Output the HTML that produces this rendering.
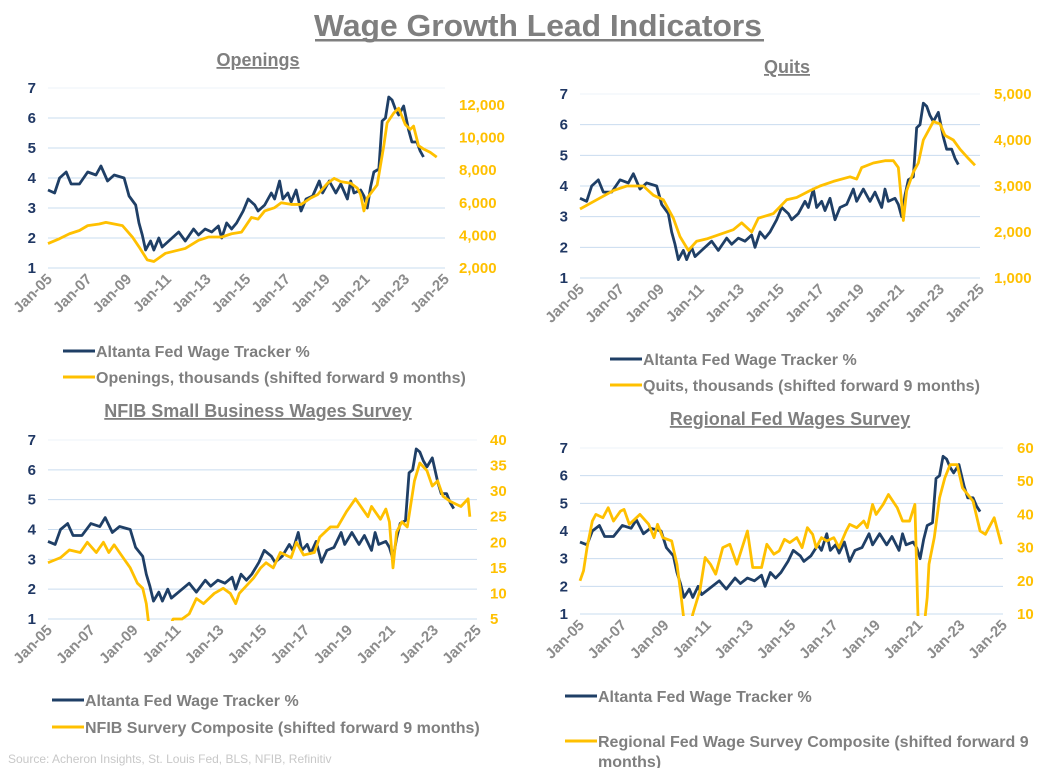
<!DOCTYPE html>
<html><head><meta charset="utf-8">
<style>
body{margin:0;background:#fff;}
svg{display:block;font-family:"Liberation Sans",Arial,sans-serif;}
.sub{font-weight:bold;fill:#7f7f7f;font-size:18px;text-decoration:underline;}
.lt{fill:#203864;font-size:15px;font-weight:bold;}
.rt{fill:#ffc000;font-size:15px;font-weight:bold;}
.xt{fill:#8c8c8c;font-size:15px;font-weight:bold;}
.lg{fill:#7f7f7f;font-size:16px;font-weight:bold;}
</style></head>
<body>
<svg id="root" width="1049" height="768" viewBox="0 0 1049 768">
<text x="538" y="36" text-anchor="middle" font-size="31" font-weight="bold" fill="#7f7f7f" textLength="448" lengthAdjust="spacingAndGlyphs">Wage Growth Lead Indicators</text>
<rect x="315" y="39" width="449" height="2.5" fill="#7f7f7f"/>
<text x="8" y="763" font-size="12" fill="#c8c8c8">Source: Acheron Insights, St. Louis Fed, BLS, NFIB, Refinitiv</text>
</svg>
<script>
// shared wage tracker series (month index from Jan-05)
const wageMonths=[0,4,7,11,14,19,24,29,32,36,40,46,49,53,55,57,59,62,64,67,69,73,79,83,88,91,95,99,103,105,108,111,114,118,121,125,127,131,135,137,140,142,145,147,150,153,156,160,164,166,170,174,177,181,183,185,189,191,193,195,197,200,202,204,206,208,210,212,215,218,220,223,225,227];
const wageValues=[3.6,3.5,4.0,4.2,3.8,3.8,4.2,4.1,4.4,3.9,4.1,4.0,3.4,3.1,2.5,2.1,1.6,1.9,1.6,2.0,1.7,1.9,2.2,1.9,2.3,2.1,2.3,2.2,2.4,2.0,2.5,2.3,2.5,2.9,3.3,3.1,2.9,3.1,3.5,3.3,3.9,3.3,3.5,3.2,3.6,2.9,3.3,3.4,3.9,3.5,3.9,3.5,3.8,3.3,3.9,3.5,3.6,3.4,3.0,3.7,4.2,4.3,5.9,6.0,6.7,6.6,6.3,6.1,6.4,5.6,5.2,5.2,4.9,4.7];
const xTickLabels=["Jan-05","Jan-07","Jan-09","Jan-11","Jan-13","Jan-15","Jan-17","Jan-19","Jan-21","Jan-23","Jan-25"];
const leftTicks=[1,2,3,4,5,6,7];
// openings
const openMonths=[0,7,13,19,24,31,35,45,51,55,60,64,71,75,83,91,97,105,111,117,123,127,131,137,141,147,153,159,163,169,173,177,183,187,189,191,193,199,203,205,209,212,216,219,221,224,227,231,235];
const openValues=[3500,3800,4100,4300,4600,4700,4800,4600,3900,3300,2500,2400,2900,3000,3200,3700,3900,3900,4100,4200,5100,5000,5500,5700,6000,5900,5900,6300,6500,7200,7500,7300,7200,6900,6500,5500,6300,7100,9500,10900,11500,11800,10800,10500,10700,9500,9300,9100,8800];
const openTicks=[2000,4000,6000,8000,10000,12000];
// quits
const quitMonths=[0,10,20,28,38,44,50,56,60,65,70,76,84,92,97,103,107,116,124,130,138,144,152,162,166,169,176,183,188,191,194,196,200,203,206,212,216,219,224,228,233,237];
const quitValues=[2500,2700,2900,3000,3000,2800,2700,2300,1900,1600,1800,1850,1950,2050,2200,2000,2300,2400,2700,2750,2900,3000,3100,3200,3150,3400,3500,3550,3550,3400,2250,2900,3300,3500,4000,4400,4350,4100,4000,3800,3600,3450];
const quitTicks=[1000,2000,3000,4000,5000];
// nfib
const nfibMonths=[0,7,12,18,22,27,31,34,37,42,46,50,53,55,56,59,66,70,75,79,83,87,93,98,102,105,107,115,119,122,126,130,136,139,143,149,152,158,162,167,172,175,179,181,186,189,191,193,195,198,201,205,208,212,215,218,221,225,231,235,236];
const nfibValues=[16,17,18.5,18,20,18,20,18,19.5,17,15,12,11,8,5,-2,2,5,5,6,9,8,10,11,10,8,10,13,15,16,15,18,17,20,17.5,18,21,23,23,26,28.5,27,25,27,24.5,26.5,24,15,22,24,23,32,35.5,34,31,32,29,28,27,28.5,25];
const nfibTicks=[5,10,15,20,25,30,35,40];
// regional fed
const regMonths=[0,2,4,7,9,13,16,19,23,25,28,34,39,42,44,47,52,55,57,59,62,64,68,71,74,77,81,85,89,95,98,103,106,110,113,116,119,123,126,129,132,134,137,140,144,147,151,153,157,161,163,166,168,172,175,180,183,187,190,192,195,197,198,201,204,207,210,214,217,223,227,230,235,239];
const regValues=[20,23,30,38,40,39,42,38,41,41.5,37,40,37,33,37,33,32,25,17,8,5,10,17,27,25,22,30,31,25,35,24,24,31,28,29,32.5,31.5,33,30,36,34,30,33,32,33,30,35,37,36,38,36,43,40,43,46,42,38,38,43,5,5,15,25,33,45,51,55,55,48,44,35,34,39,31];
const regTicks=[10,20,30,40,50,60];

const NS="http://www.w3.org/2000/svg";
const root=document.getElementById('root');
function mk(tag,attrs,parent){const e=document.createElementNS(NS,tag);for(const k in attrs)e.setAttribute(k,attrs[k]);(parent||root).appendChild(e);return e;}

function chart(cfg){
  const g=mk('g',{});
  
  
  const xs=m=>cfg.x0+(cfg.x1-cfg.x0)*m/240;
  const yl=v=>cfg.yb+(cfg.yt-cfg.yb)*(v-1)/6;
  const yr=v=>cfg.yb+(cfg.yt-cfg.yb)*(v-cfg.rmin)/(cfg.rmax-cfg.rmin);
  const t=mk('text',{x:cfg.tx,y:cfg.ty,'text-anchor':'middle',class:'sub'},g);
  t.textContent=cfg.title;
  
  
  leftTicks.forEach(v=>{
    const l=mk('line',{x1:cfg.x0,x2:cfg.x1,y1:yl(v),y2:yl(v),stroke:v==7?'#eef3f9':'#c9dcef','stroke-width':1},g);
    
    
    const tx=mk('text',{x:cfg.lx,y:yl(v)+5,'text-anchor':'end',class:'lt'},g);
    tx.textContent=v;
    
    
  });
  cfg.rticks.forEach(v=>{
    const tx=mk('text',{x:cfg.rx,y:yr(v)+5,class:'rt'},g);
    tx.textContent=v.toLocaleString('en-US');
    
    
  });
  xTickLabels.forEach((s,i)=>{
    const x=xs(i*24)+5, y=cfg.yb+12;
    const tx=mk('text',{x:x,y:y,'text-anchor':'end',class:'xt',transform:`rotate(-45 ${x} ${y})`},g);
    tx.textContent=s;
    
    
  });
  const cp=mk('clipPath',{id:'cp-'+cfg.id},g);
  mk('rect',{x:cfg.x0-2,y:cfg.yt-20,width:cfg.x1-cfg.x0+10,height:cfg.yb-cfg.yt+22},cp);
  const wp=mk('polyline',{points:wageMonths.map((m,i)=>xs(m)+','+yl(wageValues[i])).join(' '),fill:'none',stroke:'#1f3f66','stroke-width':2.8,'stroke-linejoin':'round'},g);
  
  
  const sp=mk('polyline',{points:cfg.months.map((m,i)=>xs(m)+','+yr(cfg.values[i])).join(' '),fill:'none',stroke:'#ffc000','stroke-width':2.8,'stroke-linejoin':'round','clip-path':`url(#cp-${cfg.id})`},g);
  
  
  cfg.legend.forEach((L,i)=>{
    const lg=mk('g',{},g);
    
    
    mk('line',{x1:cfg.lgx,x2:cfg.lgx+32,y1:L[1],y2:L[1],stroke:i?'#ffc000':'#1f3f66','stroke-width':3},lg);
    L[0].forEach((s,j)=>{const tx=mk('text',{x:cfg.lgx+33,y:L[1]+6+j*20,class:'lg'},lg);tx.textContent=s;});
  });
}
chart({id:'openings',title:'Openings',tx:258,ty:66,x0:48,x1:445,yt:88,yb:268,lx:36,rx:459,rmin:2000,rmax:13040,rticks:openTicks,months:openMonths,values:openValues,lgx:63,
  legend:[[['Altanta Fed Wage Tracker %'],351],[['Openings, thousands (shifted forward 9 months)'],377]]});
chart({id:'quits',title:'Quits',tx:787,ty:73,x0:580,x1:980,yt:94,yb:278,lx:568,rx:994,rmin:1000,rmax:5000,rticks:quitTicks,months:quitMonths,values:quitValues,lgx:610,
  legend:[[['Altanta Fed Wage Tracker %'],359],[['Quits, thousands (shifted forward 9 months)'],385]]});
chart({id:'nfib',title:'NFIB Small Business Wages Survey',tx:258,ty:417,x0:48,x1:477,yt:440,yb:619,lx:36,rx:490,rmin:5,rmax:40,rticks:nfibTicks,months:nfibMonths,values:nfibValues,lgx:52,
  legend:[[['Altanta Fed Wage Tracker %'],700],[['NFIB Survery Composite (shifted forward 9 months)'],727]]});
chart({id:'regional',title:'Regional Fed Wages Survey',tx:790,ty:425,x0:580,x1:1003,yt:448,yb:614,lx:568,rx:1017,rmin:10,rmax:60,rticks:regTicks,months:regMonths,values:regValues,lgx:565,
  legend:[[['Altanta Fed Wage Tracker %'],696],[['Regional Fed Wage Survey Composite (shifted forward 9','months)'],741]]});
</script>
</body></html>
